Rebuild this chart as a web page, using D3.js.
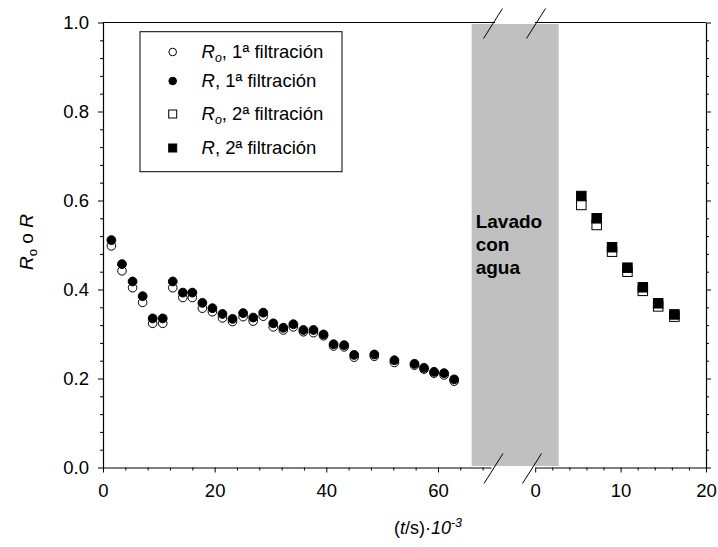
<!DOCTYPE html>
<html>
<head>
<meta charset="utf-8">
<script src="https://cdn.jsdelivr.net/npm/d3@7"></script>
<style>
  body { margin: 0; background: #fff; }
  svg { display: block; }
  text { font-family: Arial, "Liberation Sans", sans-serif; fill: #000; }
</style>
</head>
<body>
<svg id="chart" width="718" height="547"></svg>
<script>
// ---- data ----
const tFirst  = [1.5, 3.4, 5.3, 7.1, 8.9, 10.7, 12.5, 14.3, 16.0, 17.8, 19.6, 21.4, 23.2, 25.1, 26.9, 28.7,
                 30.5, 32.3, 34.1, 35.9, 37.7, 39.5, 41.3, 43.2, 45.0, 48.6, 52.2, 55.8, 57.5, 59.3, 61.1, 62.9];
const RFirst  = [0.511, 0.457, 0.418, 0.385, 0.335, 0.335, 0.418, 0.393, 0.393, 0.370, 0.358, 0.345, 0.334, 0.347, 0.337, 0.348,
                 0.324, 0.314, 0.322, 0.309, 0.309, 0.299, 0.277, 0.275, 0.253, 0.254, 0.241, 0.233, 0.224, 0.215, 0.212, 0.198];
const RoFirst = [0.498, 0.442, 0.404, 0.371, 0.324, 0.324, 0.404, 0.382, 0.382, 0.358, 0.350, 0.336, 0.328, 0.339, 0.329, 0.340,
                 0.316, 0.309, 0.316, 0.305, 0.303, 0.296, 0.273, 0.271, 0.248, 0.250, 0.236, 0.230, 0.221, 0.212, 0.208, 0.194];
const tSecond  = [5.4, 7.2, 9.0, 10.8, 12.6, 14.4, 16.3];
const RSecond  = [0.610, 0.560, 0.495, 0.449, 0.405, 0.369, 0.344];
const RoSecond = [0.590, 0.545, 0.485, 0.440, 0.397, 0.362, 0.339];

const yTicks = [0, 0.2, 0.4, 0.6, 0.8, 1.0];
const xTicks1 = [0, 20, 40, 60];
const xTicks2 = [0, 10, 20];
const legendLabels = [
  {sym: "circleOpen",  main: "R", sub: "o", rest: ", 1ª filtración"},
  {sym: "circleFill",  main: "R", sub: "",  rest: ", 1ª filtración"},
  {sym: "squareOpen",  main: "R", sub: "o", rest: ", 2ª filtración"},
  {sym: "squareFill",  main: "R", sub: "",  rest: ", 2ª filtración"}
];
const bandLabel = ["Lavado", "con", "agua"];

// ---- layout ----
const L = 103, R = 706, T = 22.5, B = 467.5;
const seg1End = 491, seg2Start = 535.2;
const bandX0 = 471.7, bandX1 = 558.7;

const svg = d3.select("#chart");
const y = d3.scaleLinear().domain([0, 1]).range([B, T]);
const x1 = d3.scaleLinear().domain([0, 69.5]).range([L, seg1End]);
const x2 = d3.scaleLinear().domain([0, 20]).range([seg2Start, R]);

// grey band
svg.append("rect").attr("x", bandX0).attr("y", T + 1.5).attr("width", bandX1 - bandX0)
  .attr("height", B - T - 3).attr("fill", "#c0c0c0");

bandLabel.forEach((s, i) => {
  svg.append("text").attr("x", bandX0 + 4).attr("y", 228 + i * 23)
    .attr("font-size", 19).attr("font-weight", "bold").text(s);
});

function styleAxis(g, fs) {
  g.selectAll("path.domain").attr("stroke", "#000").attr("stroke-width", 1.2);
  g.selectAll(".tick line").attr("stroke", "#000").attr("stroke-width", 1);
  g.selectAll(".tick text").attr("font-size", fs).attr("font-family", "Arial, 'Liberation Sans', sans-serif").attr("fill", "#000");
}

const minorY = d3.range(0, 1.0001, 0.04).filter(v => Math.abs(v * 5 - Math.round(v * 5)) > 1e-6);

// left axis
const gl = svg.append("g").attr("transform", `translate(${L},0)`)
  .call(d3.axisLeft(y).tickValues(yTicks).tickFormat(d3.format(".1f")).tickSize(5).tickSizeOuter(0).tickPadding(9));
styleAxis(gl, 18.5);
const glm = svg.append("g").attr("transform", `translate(${L},0)`)
  .call(d3.axisLeft(y).tickValues(minorY).tickFormat("").tickSize(3).tickSizeOuter(0));
glm.select("path.domain").remove(); styleAxis(glm, 18);

// right axis
const gr = svg.append("g").attr("transform", `translate(${R},0)`)
  .call(d3.axisRight(y).tickValues(yTicks).tickFormat("").tickSize(5).tickSizeOuter(0));
styleAxis(gr, 18);
const grm = svg.append("g").attr("transform", `translate(${R},0)`)
  .call(d3.axisRight(y).tickValues(minorY).tickFormat("").tickSize(3).tickSizeOuter(0));
grm.select("path.domain").remove(); styleAxis(grm, 18);

// bottom axis, segment 1
const gb1 = svg.append("g").attr("transform", `translate(0,${B})`)
  .call(d3.axisBottom(x1).tickValues(xTicks1).tickFormat(d3.format("d")).tickSize(5).tickSizeOuter(0).tickPadding(11));
styleAxis(gb1, 18.5);
const gb1m = svg.append("g").attr("transform", `translate(0,${B})`)
  .call(d3.axisBottom(x1).tickValues(d3.range(4, 69, 4).filter(v => v % 20 !== 0)).tickFormat("").tickSize(3).tickSizeOuter(0));
gb1m.select("path.domain").remove(); styleAxis(gb1m, 18);

// bottom axis, segment 2
const gb2 = svg.append("g").attr("transform", `translate(0,${B})`)
  .call(d3.axisBottom(x2).tickValues(xTicks2).tickFormat(d3.format("d")).tickSize(5).tickSizeOuter(0).tickPadding(11));
styleAxis(gb2, 18.5);
const gb2m = svg.append("g").attr("transform", `translate(0,${B})`)
  .call(d3.axisBottom(x2).tickValues(d3.range(2, 20, 2).filter(v => v % 10 !== 0)).tickFormat("").tickSize(3).tickSizeOuter(0));
gb2m.select("path.domain").remove(); styleAxis(gb2m, 18);

// top frame, broken
svg.append("line").attr("x1", L).attr("x2", 495).attr("y1", T).attr("y2", T).attr("stroke", "#000").attr("stroke-width", 1.2);
svg.append("line").attr("x1", 535).attr("x2", R).attr("y1", T).attr("y2", T).attr("stroke", "#000").attr("stroke-width", 1.2);

// break marks
[[T, 493, 536], [B, 493.5, 532]].forEach(([yy, cx1, cx2]) => {
  [cx1, cx2].forEach(cx => {
    svg.append("line").attr("x1", cx - 9.5).attr("y1", yy + 16).attr("x2", cx + 9.5).attr("y2", yy - 14)
      .attr("stroke", "#000").attr("stroke-width", 1);
  });
});

// data: circles (first filtration)
const dataPts = svg.append("g");
dataPts.selectAll("circle.ro").data(tFirst.map((t, i) => [t, RoFirst[i]])).join("circle")
  .attr("cx", d => x1(d[0])).attr("cy", d => y(d[1])).attr("r", 4.3)
  .attr("fill", "#fff").attr("stroke", "#000").attr("stroke-width", 1);
dataPts.selectAll("circle.r").data(tFirst.map((t, i) => [t, RFirst[i]])).join(enter => enter.append("circle"))
  .attr("cx", d => x1(d[0])).attr("cy", d => y(d[1])).attr("r", 4.4)
  .attr("fill", "#000").attr("stroke", "#000").attr("stroke-width", 1);

// squares (second filtration)
const sq = 9.5;
svg.append("g").selectAll("rect").data(tSecond.map((t, i) => [t, RoSecond[i]])).join("rect")
  .attr("x", d => x2(d[0]) - sq / 2).attr("y", d => y(d[1]) - sq / 2).attr("width", sq).attr("height", sq)
  .attr("fill", "#fff").attr("stroke", "#000").attr("stroke-width", 1);
svg.append("g").selectAll("rect").data(tSecond.map((t, i) => [t, RSecond[i]])).join("rect")
  .attr("x", d => x2(d[0]) - sq / 2).attr("y", d => y(d[1]) - sq / 2).attr("width", sq).attr("height", sq)
  .attr("fill", "#000").attr("stroke", "#000").attr("stroke-width", 1);

// legend
const lg = svg.append("g");
lg.append("rect").attr("x", 140).attr("y", 31.7).attr("width", 202).attr("height", 140)
  .attr("fill", "#fff").attr("stroke", "#000").attr("stroke-width", 1);
const rowY = [52, 81, 114, 148];
legendLabels.forEach((e, i) => {
  const cy = rowY[i], cx = 172.7;
  if (e.sym.startsWith("circle")) {
    lg.append("circle").attr("cx", cx).attr("cy", cy).attr("r", 3.8)
      .attr("fill", e.sym === "circleFill" ? "#000" : "#fff").attr("stroke", "#000").attr("stroke-width", 1);
  } else {
    lg.append("rect").attr("x", cx - 4).attr("y", cy - 4).attr("width", 8).attr("height", 8)
      .attr("fill", e.sym === "squareFill" ? "#000" : "#fff").attr("stroke", "#000").attr("stroke-width", 1);
  }
  const tx = lg.append("text").attr("x", 201.5).attr("y", cy + 5.5).attr("font-size", 18.5);
  tx.append("tspan").attr("font-style", "italic").text(e.main);
  if (e.sub) tx.append("tspan").attr("font-style", "italic").attr("font-size", 12.5).attr("dy", 4).text(e.sub);
  tx.append("tspan").attr("dy", e.sub ? -4 : 0).text(e.rest);
});

// y title
const yt = svg.append("text").attr("transform", "translate(33,242) rotate(-90)")
  .attr("text-anchor", "middle").attr("font-size", 19);
yt.append("tspan").attr("font-style", "italic").text("R");
yt.append("tspan").attr("font-size", 13).attr("dy", 4).text("o");
yt.append("tspan").attr("dy", -4).text(" o ");
yt.append("tspan").attr("font-style", "italic").text("R");

// x title
const xt = svg.append("text").attr("x", 428).attr("y", 534).attr("text-anchor", "middle").attr("font-size", 18);
xt.append("tspan").text("(");
xt.append("tspan").attr("font-style", "italic").text("t");
xt.append("tspan").text("/s)·");
xt.append("tspan").attr("font-style", "italic").text("10");
xt.append("tspan").attr("font-style", "italic").attr("font-size", 12.5).attr("dy", -7).text("-3");
</script>
</body>
</html>
